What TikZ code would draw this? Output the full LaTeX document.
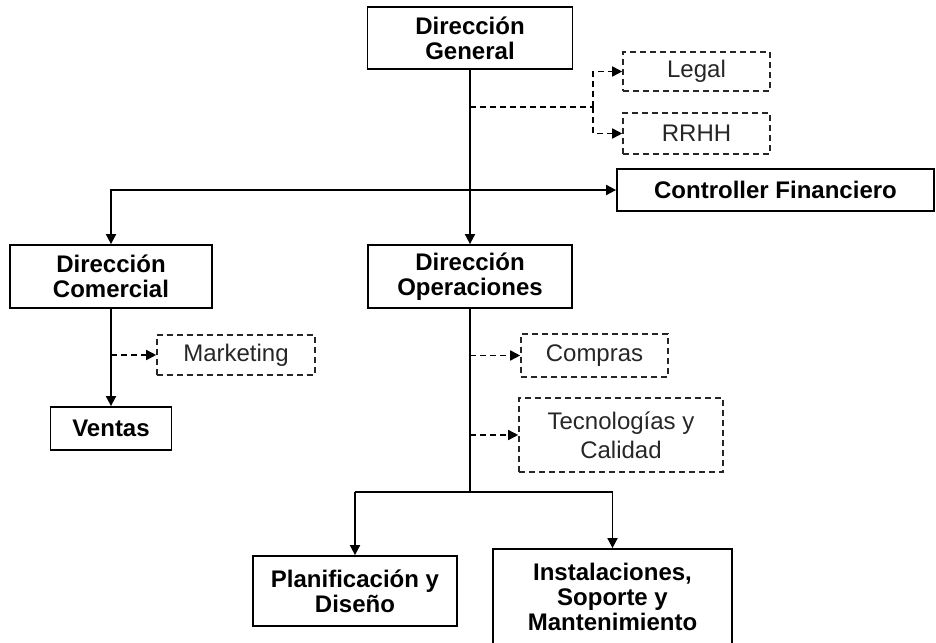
\documentclass[tikz,border=0pt]{standalone}
\usepackage{fontspec}
\setmainfont{Liberation Sans}
\usetikzlibrary{arrows.meta}
\begin{document}
\begin{tikzpicture}[x=1pt,y=-1pt,
  line width=1.8pt,
  tip/.style={-{Triangle[length=10pt,width=10pt]}},
  unit/.style={draw=black, line width=1.8pt, inner sep=0pt, align=center,
    font=\bfseries\fontsize{24}{25}\selectfont, text=black},
  staff/.style={draw=black!85, dash pattern=on 6pt off 4pt, line width=1.6pt,
    inner sep=0pt, align=center, font=\fontsize{24}{29}\selectfont, text=black!85},
  dotted link/.style={dash pattern=on 6pt off 4pt, line width=1.6pt}]
\useasboundingbox (0,0) rectangle (936,642);
\clip (0,0) rectangle (936,642);

% boxes
\node[unit, minimum width=205pt, minimum height=62pt] (dg) at (470,38) {Dirección\\General};
\node[staff, minimum width=147pt, minimum height=39pt] (legal) at (696.5,71.5) {Legal};
\node[staff, minimum width=147pt, minimum height=41pt] (rrhh) at (696.5,133.5) {RRHH};
\node[unit, minimum width=317pt, minimum height=42pt] (ctrl) at (775.5,190) {Controller Financiero};
\node[unit, minimum width=202pt, minimum height=63pt] (dc) at (111,276.5) {Dirección\\Comercial};
\node[unit, minimum width=204pt, minimum height=63pt] (do) at (470,276.5) {Dirección\\Operaciones};
\node[staff, minimum width=158pt, minimum height=40pt] (mkt) at (236,355) {Marketing};
\node[unit, minimum width=121pt, minimum height=43pt] (ventas) at (111,428.5) {Ventas};
\node[staff, minimum width=147pt, minimum height=43pt] (compras) at (594.5,355.5) {Compras};
\node[staff, minimum width=204pt, minimum height=74pt] (tec) at (621,435) {Tecnologías y\\Calidad};
\node[unit, minimum width=204pt, minimum height=70pt] (plan) at (355,591) {Planificación y\\Diseño};
\node[unit, minimum width=239pt, minimum height=96pt] (inst) at (612.5,597) {Instalaciones,\\Soporte y\\Mantenimiento};

% junction points
\coordinate (dgstaff) at (470,107);
\coordinate (staffbus) at (593,107);
\coordinate (split) at (470,190);
\coordinate (dcturn) at (111,190);
\coordinate (mktj) at (111,355);
\coordinate (comj) at (470,355.5);
\coordinate (tecj) at (470,435);
\coordinate (opsj) at (470,492);
\coordinate (planturn) at (355,492);
\coordinate (instturn) at (612.5,492);

% line of command
\draw[tip] (dg.south) -- (do.north);
\draw[tip] (split) -- (ctrl.west);
\draw[tip] (split) -- (dcturn) -- (dc.north);
\draw[tip] (dc.south) -- (ventas.north);
\draw (do.south) -- (opsj);
\draw[tip] (planturn) -- (plan.north);
\draw[tip] (planturn) -- (instturn) -- (inst.north);

% staff units
\draw[dotted link] (dgstaff) -- (staffbus);
\draw[dotted link, tip] (staffbus) |- (legal.west);
\draw[dotted link, tip] (staffbus) |- (rrhh.west);
\draw[dotted link, tip] (mktj) -- (mkt.west);
\draw[dotted link, tip] (comj) -- (compras.west);
\draw[dotted link, tip] (tecj) -- (tec.west);
\end{tikzpicture}
\end{document}
